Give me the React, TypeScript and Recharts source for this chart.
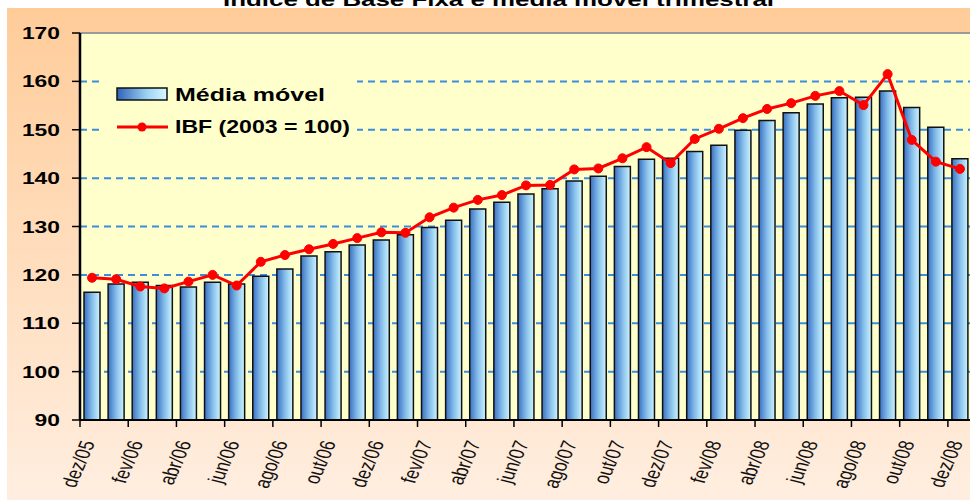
import React from "react";
import {
  ComposedChart,
  Bar,
  Line,
  XAxis,
  YAxis,
  CartesianGrid,
  ReferenceLine,
} from "recharts";

// months, dez/05 .. dez/08
const months = [
  "dez/05", "jan/06", "fev/06", "mar/06", "abr/06", "mai/06", "jun/06",
  "jul/06", "ago/06", "set/06", "out/06", "nov/06", "dez/06", "jan/07",
  "fev/07", "mar/07", "abr/07", "mai/07", "jun/07", "jul/07", "ago/07",
  "set/07", "out/07", "nov/07", "dez/07", "jan/08", "fev/08", "mar/08",
  "abr/08", "mai/08", "jun/08", "jul/08", "ago/08", "set/08", "out/08",
  "nov/08", "dez/08",
];

// média móvel trimestral (bars)
const mediaMovel = [
  116.4, 118.1, 118.5, 117.8, 117.5, 118.5, 118.1, 119.7, 121.2, 123.9,
  124.8, 126.2, 127.2, 128.3, 129.8, 131.3, 133.6, 135.0, 136.7, 137.8,
  139.4, 140.4, 142.4, 143.9, 144.1, 145.5, 146.8, 149.9, 151.9, 153.5,
  155.3, 156.6, 156.7, 158.0, 154.6, 150.5, 144.0,
];

// IBF (2003 = 100), red line
const ibf = [
  119.4, 119.1, 117.6, 117.2, 118.6, 120.0, 117.8, 122.7, 124.1, 125.3,
  126.4, 127.6, 128.8, 128.7, 131.9, 133.9, 135.5, 136.5, 138.5, 138.6,
  141.8, 142.0, 144.1, 146.4, 143.1, 148.1, 150.2, 152.4, 154.3, 155.5,
  157.0, 158.0, 155.1, 161.5, 147.9, 143.4, 141.9,
];

const yTicks = [90, 100, 110, 120, 130, 140, 150, 160, 170];
const gridValues = [100, 110, 120, 130, 140, 150, 160];

const data = months.map((m, i) => ({
  month: m,
  media: mediaMovel[i],
  ibf: ibf[i],
}));

const FONT = "'Liberation Sans', Arial, sans-serif";
const BAND = 892 / 37;

function XTick(props: any) {
  const { x, payload } = props;
  return (
    <g>
      <line x1={x - BAND / 2} x2={x - BAND / 2} y1={420} y2={427} stroke="#000" strokeWidth={1.5} />
      <text
        transform={`translate(${x - 4},${441}) scale(1.35,1) rotate(-72)`}
        textAnchor="end"
        dy="0.35em"
        fontSize={16}
        fontFamily={FONT}
        fill="#111"
      >
        {payload.value}
      </text>
    </g>
  );
}

function YTick(props: any) {
  const { y, payload } = props;
  const s = String(payload.value);
  return (
    <g>
      <line x1={72} x2={80} y1={y} y2={y} stroke="#000" strokeWidth={1.5} />
      <text
        x={60}
        y={y}
        dy={6}
        textAnchor="end"
        fontSize={17}
        fontWeight="bold"
        fontFamily={FONT}
        fill="#000"
        textLength={s.length * 12.7}
        lengthAdjust="spacingAndGlyphs"
      >
        {s}
      </text>
    </g>
  );
}

export default function App() {
  return (
    <div
      style={{
        position: "fixed",
        left: 0,
        top: 0,
        width: 970,
        height: 503,
        overflow: "hidden",
        background: "#fff",
      }}
    >
      <div
        style={{
          position: "absolute",
          left: 7,
          top: 8,
          width: 980,
          height: 492,
          background: "linear-gradient(#FFCC99, #FFEEE0)",
        }}
      />
      <div style={{ position: "absolute", left: 0, top: 0 }}>
        <ComposedChart
          width={980}
          height={503}
          data={data}
          margin={{ top: 33, right: 8, left: 0, bottom: 0 }}
          barCategoryGap="34%"
        >
          <defs>
            <linearGradient id="barGrad" x1="0" y1="0" x2="1" y2="0">
              <stop offset="0%" stopColor="#3A6FC2" />
              <stop offset="50%" stopColor="#84BDEA" />
              <stop offset="100%" stopColor="#CDF4FF" />
            </linearGradient>
          </defs>
          <CartesianGrid
            vertical={false}
            fill="#FFFFCC"
            stroke="#3A8EDC"
            strokeWidth={2}
            strokeDasharray="7 5"
            horizontalValues={gridValues}
          />
          <XAxis
            dataKey="month"
            interval={1}
            height={83}
            tickLine={false}
            axisLine={{ stroke: "#000", strokeWidth: 2 }}
            tick={<XTick />}
          />
          <YAxis
            domain={[90, 170]}
            ticks={yTicks}
            width={80}
            tickLine={false}
            axisLine={{ stroke: "#000", strokeWidth: 2.5 }}
            tick={<YTick />}
          />
          <ReferenceLine y={170} stroke="#9a9a9a" strokeWidth={2} />
          <Bar
            dataKey="media"
            fill="url(#barGrad)"
            stroke="#111"
            strokeWidth={1.5}
            barSize={16}
            isAnimationActive={false}
          />
          <Line
            type="linear"
            dataKey="ibf"
            stroke="#FF0000"
            strokeWidth={3}
            dot={{ r: 4.5, fill: "#FF0000", stroke: "#FF0000", strokeWidth: 1 }}
            isAnimationActive={false}
          />
        </ComposedChart>
      </div>
      <svg
        width={970}
        height={503}
        style={{ position: "absolute", left: 0, top: 0, pointerEvents: "none" }}
      >
        <defs>
          <linearGradient id="legGrad" x1="0" y1="0" x2="1" y2="0">
            <stop offset="0%" stopColor="#2F62B8" />
            <stop offset="60%" stopColor="#9CD3F2" />
            <stop offset="100%" stopColor="#D8F8FF" />
          </linearGradient>
        </defs>
        <text
          x={223}
          y={6}
          fontSize={19}
          fontWeight="bold"
          fontFamily={FONT}
          fill="#000"
          textLength={551}
          lengthAdjust="spacingAndGlyphs"
        >
          Índice de Base Fixa e média móvel trimestral
        </text>
        <rect x={100} y={72} width={257} height={70} fill="#FFFFCC" />
        <rect x={117} y={88} width={50} height={12} fill="url(#legGrad)" stroke="#111" strokeWidth={1.5} />
        <text
          x={175}
          y={101}
          fontSize={18}
          fontWeight="bold"
          fontFamily={FONT}
          fill="#000"
          textLength={150}
          lengthAdjust="spacingAndGlyphs"
        >
          Média móvel
        </text>
        <line x1={117} x2={168} y1={127} y2={127} stroke="#FF0000" strokeWidth={3} />
        <circle cx={142} cy={127} r={4.5} fill="#FF0000" />
        <text
          x={175}
          y={133}
          fontSize={18}
          fontWeight="bold"
          fontFamily={FONT}
          fill="#000"
          textLength={175}
          lengthAdjust="spacingAndGlyphs"
        >
          IBF (2003 = 100)
        </text>
      </svg>
    </div>
  );
}
